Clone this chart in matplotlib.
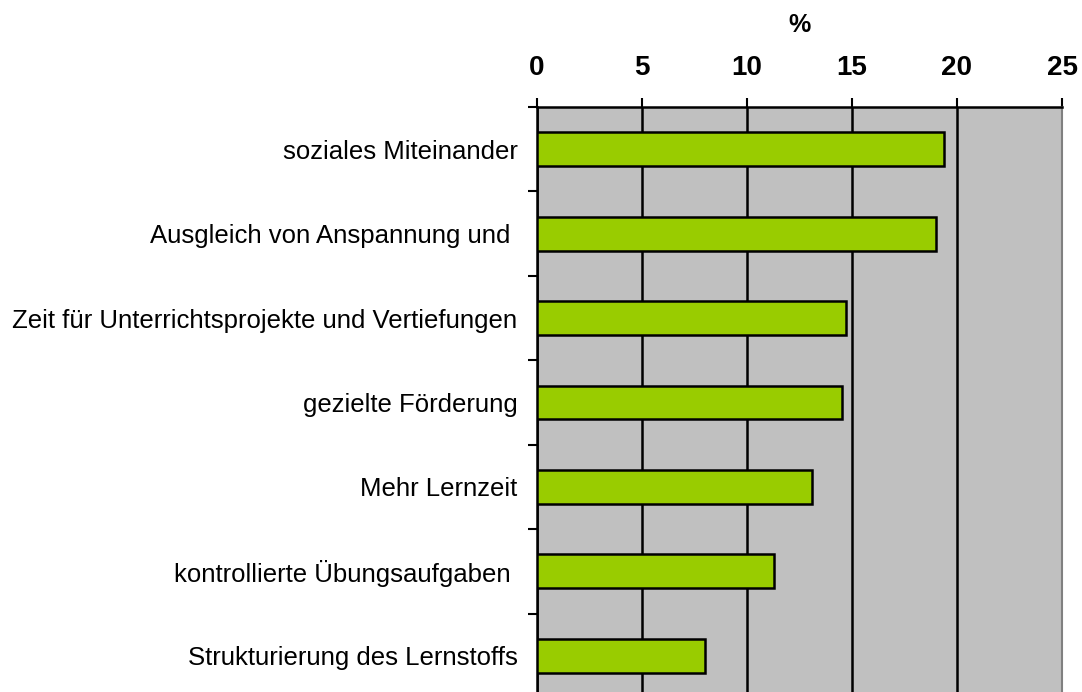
import numpy as np
import matplotlib.pyplot as plt

plt.rcParams['font.family'] = ['Liberation Sans', 'DejaVu Sans']

categories = ['soziales Miteinander',
              'Ausgleich von Anspannung und ',
              'Zeit für Unterrichtsprojekte und Vertiefungen',
              'gezielte Förderung',
              'Mehr Lernzeit',
              'kontrollierte Übungsaufgaben ',
              'Strukturierung des Lernstoffs']
values = [19.4, 19.0, 14.7, 14.5, 13.1, 11.3, 8.0]
xticks = [0, 5, 10, 15, 20, 25]

fig = plt.figure(figsize=(10.82, 6.92), dpi=100)
ax = fig.add_axes([537 / 1082, -6 / 692, 525 / 1082, 591 / 692])
ax.set_facecolor('#c0c0c0')

y = np.arange(len(categories))
ax.barh(y, values, height=0.40, color='#99cc00', edgecolor='black',
        linewidth=1.8, zorder=3)

ax.set_xlim(0, 25)
ax.set_ylim(len(categories) - 0.5, -0.5)
ax.set_xticks(xticks)
ax.set_xticklabels([str(t) for t in xticks], fontsize=20, fontweight='bold')
ax.xaxis.tick_top()
ax.xaxis.set_label_position('top')
ax.set_xlabel('%', fontsize=18, fontweight='bold', labelpad=17)
ax.tick_params(axis='x', direction='out', length=6.5, width=1.5, pad=12)
ax.grid(axis='x', color='black', linewidth=1.8, zorder=1)

ax.set_yticks(y)
ax.set_yticklabels(categories, fontsize=18.5)
ax.tick_params(axis='y', length=0, pad=14)
ax.set_yticks(np.arange(len(categories)) - 0.5, minor=True)
ax.tick_params(axis='y', which='minor', direction='out', length=6.5, width=1.5)

for s in ['top', 'left']:
    ax.spines[s].set_linewidth(1.8)
ax.spines['right'].set_color('#808080')
ax.spines['right'].set_linewidth(1.5)
ax.spines['bottom'].set_visible(False)

fig.savefig('out.png', dpi=100)
